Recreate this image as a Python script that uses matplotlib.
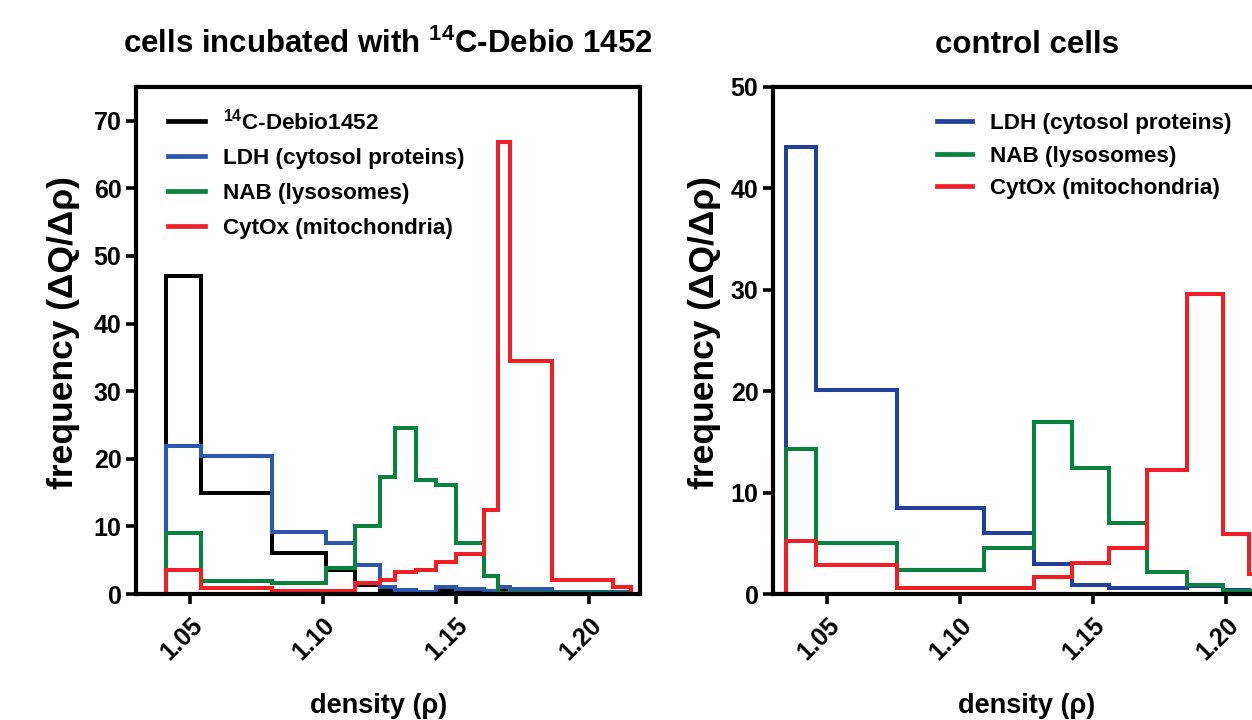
import matplotlib
matplotlib.use("Agg")
import matplotlib.pyplot as plt
from matplotlib.lines import Line2D

plt.rcParams['font.family'] = ['Liberation Sans', 'DejaVu Sans']
plt.rcParams['font.weight'] = 'bold'
plt.rcParams['mathtext.fontset'] = 'custom'
plt.rcParams['mathtext.rm'] = 'Liberation Sans:bold'
plt.rcParams['mathtext.bf'] = 'Liberation Sans:bold'

# ---------------- data: left panel (cells incubated with 14C-Debio 1452)
left_edges = [1.030, 1.041, 1.054, 1.081, 1.101, 1.112, 1.1215, 1.127, 1.135,
              1.1425, 1.150, 1.1605, 1.1657, 1.1703, 1.1863, 1.209, 1.216]
left_debio = [0, 47.0, 14.9, 6.0, 3.5, 1.3, 0.6, 0.5, 0.3, 0.5, 0.4, 0.4, 0.6, 0.4, 0.3, 0.2]
left_ldh = [0, 21.9, 20.4, 9.1, 7.5, 4.3, 1.1, 0.6, 0.3, 1.0, 0.7, 0.5, 1.1, 0.7, 0.35, 0.35]
left_nab = [0, 9.0, 1.9, 1.6, 3.8, 10.0, 17.3, 24.5, 16.9, 16.1, 7.6, 2.7, 0.2, 0.1, 0.1, 0.1]
left_cytox = [0, 3.5, 0.85, 0.5, 0.5, 1.6, 2.1, 3.2, 3.55, 4.7, 5.9, 12.4, 66.9, 34.4, 2.05, 1.0]

# ---------------- data: right panel (control cells)
right_edges = [1.030, 1.0347, 1.046, 1.0762, 1.109, 1.128, 1.1422, 1.156, 1.1704,
               1.1855, 1.1988, 1.2087, 1.2187]
right_ldh = [0, 44.1, 20.1, 8.5, 6.05, 2.95, 0.9, 0.56, 0.56, 0.8, 0.4, 0.3]
right_nab = [0, 14.3, 5.06, 2.37, 4.57, 17.0, 12.4, 7.03, 2.2, 0.89, 0.3, 0.3]
right_cytox = [0, 5.26, 2.86, 0.56, 0.56, 1.65, 3.09, 4.5, 12.2, 29.6, 5.9, 2.0]

labels_left = [r'$^{\mathbf{14}}$C-Debio1452', 'LDH (cytosol proteins)',
               'NAB (lysosomes)', 'CytOx (mitochondria)']
labels_right = ['LDH (cytosol proteins)', 'NAB (lysosomes)', 'CytOx (mitochondria)']
x_ticks = [1.05, 1.10, 1.15, 1.20]
x_ticklabels = ['1.05', '1.10', '1.15', '1.20']
left_yticks = [0, 10, 20, 30, 40, 50, 60, 70]
right_yticks = [0, 10, 20, 30, 40, 50]

BLACK = '#000000'
BLUE_L = '#2E56AA'
BLUE_R = '#233F98'
GREEN = '#0B8140'
RED = '#EE1F26'

fig = plt.figure(figsize=(12.52, 7.2), dpi=100)
W, H = 1252.0, 720.0
axL = fig.add_axes([136 / W, (H - 594) / H, 504 / W, 507 / H])
axR = fig.add_axes([773 / W, (H - 594) / H, 504 / W, 507 / H])

lw = 2.9
axL.stairs(left_debio, left_edges, color=BLACK, lw=lw, baseline=0)
axL.stairs(left_ldh, left_edges, color=BLUE_L, lw=lw, baseline=0)
axL.stairs(left_nab, left_edges, color=GREEN, lw=lw, baseline=0)
axL.stairs(left_cytox, left_edges, color=RED, lw=lw, baseline=0)

axR.stairs(right_ldh, right_edges, color=BLUE_R, lw=lw, baseline=0)
axR.stairs(right_nab, right_edges, color=GREEN, lw=lw, baseline=0)
axR.stairs(right_cytox, right_edges, color=RED, lw=lw, baseline=0)

for ax, yt, ymax, xl in ((axL, left_yticks, 75, 0.482), (axR, right_yticks, 50, 0.504)):
    ax.set_xlim(1.0297, 1.2192)
    ax.set_ylim(0, ymax)
    ax.set_xticks(x_ticks)
    ax.set_xticklabels(x_ticklabels, rotation=45, ha='right', va='top',
                       rotation_mode='anchor', fontsize=18, fontweight='bold')
    ax.set_yticks(yt)
    ax.set_yticklabels([str(v) for v in yt], fontsize=18, fontweight='bold')
    ax.tick_params(direction='out', length=7.5, width=2.6, pad=3)
    ax.tick_params(axis='x', pad=6)
    for s in ax.spines.values():
        s.set_linewidth(3.0)
    ax.set_xlabel('density (ρ)', fontsize=19.5, fontweight='bold', labelpad=22)
    ax.xaxis.set_label_coords(xl, -0.196)
    ax.set_ylabel('frequency (ΔQ/Δρ)', fontsize=25.5, fontweight='bold')

axL.yaxis.set_label_coords(-0.112, 0.515)
axR.yaxis.set_label_coords(-0.104, 0.515)

fig.text(388 / W, 1 - 53 / H, r'cells incubated with $^{\mathbf{14}}$C-Debio 1452',
         fontsize=22.5, fontweight='bold', ha='center', va='baseline')
fig.text(1027 / W, 1 - 53 / H, 'control cells',
         fontsize=22.5, fontweight='bold', ha='center', va='baseline')

hdl_L = [Line2D([], [], color=c, lw=3.4) for c in (BLACK, BLUE_L, GREEN, RED)]
axL.legend(hdl_L, labels_left, loc='upper left', bbox_to_anchor=(0.0635, 0.958),
           frameon=False, prop={'size': 16.2, 'weight': 'bold'},
           borderaxespad=0, borderpad=0,
           handlelength=1.65, handletextpad=0.78, labelspacing=0.62)
hdl_R = [Line2D([], [], color=c, lw=3.4) for c in (BLUE_R, GREEN, RED)]
axR.legend(hdl_R, labels_right, loc='upper left', bbox_to_anchor=(0.325, 0.948),
           frameon=False, prop={'size': 16.2, 'weight': 'bold'},
           borderaxespad=0, borderpad=0,
           handlelength=1.58, handletextpad=0.8, labelspacing=0.5)

fig.savefig('out.png', dpi=100)
